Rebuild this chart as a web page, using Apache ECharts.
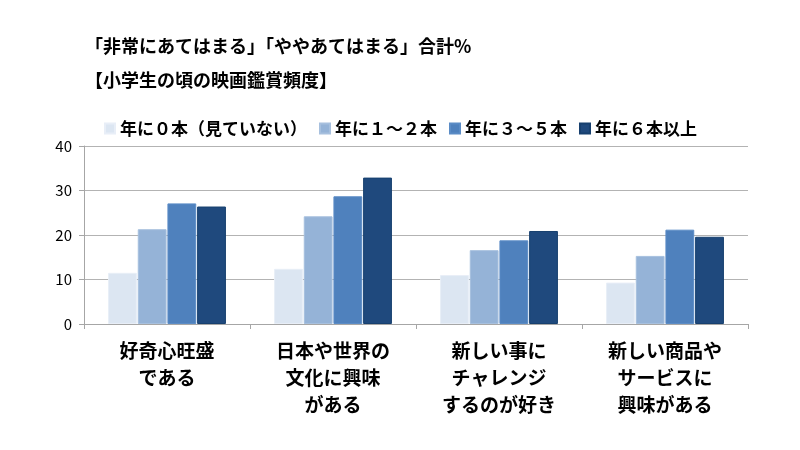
<!DOCTYPE html>
<html>
<head>
<meta charset="utf-8">
<script src="https://cdn.jsdelivr.net/npm/echarts@6/dist/echarts.min.js"></script>
<style>
  html, body { margin: 0; padding: 0; background: #fff; }
  #chart { width: 800px; height: 450px; }
</style>
</head>
<body>
<div id="chart"></div>
<script>
const categories = [
  '好奇心旺盛\nである',
  '日本や世界の\n文化に興味\nがある',
  '新しい事に\nチャレンジ\nするのが好き',
  '新しい商品や\nサービスに\n興味がある'
]
const seriesNames = ['年に０本（見ていない）', '年に１～２本', '年に３～５本', '年に６本以上']
const none = [11.5, 12.4, 11.0, 9.3]
const oneTwo = [21.3, 24.2, 16.6, 15.3]
const threeFive = [27.1, 28.7, 18.8, 21.2]
const sixPlus = [26.4, 32.9, 20.9, 19.6]
const yTicks = [0, 10, 20, 30, 40]

const colors = ['#dce6f2', '#95b3d7', '#4f81bd', '#1f497d']
const borders = ['#e8eef7', '#a7c0de', '#5b8cc6', '#17406f']
const font = '"Noto Sans CJK JP", "Noto Sans", sans-serif'

const chart = echarts.init(document.getElementById('chart'))

const values = [none, oneTwo, threeFive, sixPlus]
const series = seriesNames.map((name, i) => {
  return {
    name: name,
    type: 'bar',
    barGap: '3%',
    barCategoryGap: '29%',
    itemStyle: {
      color: colors[i],
      borderColor: borders[i],
      borderWidth: 1
    },
    data: values[i]
  }
})

chart.setOption({
  backgroundColor: '#fff',
  color: colors,
  title: [
    {
      text: '「非常にあてはまる」「ややあてはまる」合計%',
      left: 80,
      top: 32,
      textStyle: { fontFamily: font, fontSize: 18, fontWeight: 'bold', color: '#000' }
    },
    {
      text: '【小学生の頃の映画鑑賞頻度】',
      left: 80,
      top: 66,
      textStyle: { fontFamily: font, fontSize: 18, fontWeight: 'bold', color: '#000' }
    }
  ],
  legend: {
    left: 99,
    top: 115,
    itemWidth: 10,
    itemHeight: 10,
    itemGap: 12,
    icon: 'rect',
    textStyle: { fontFamily: font, fontSize: 17, fontWeight: 'bold', color: '#000' },
    data: seriesNames
  },
  grid: {
    left: 84,
    right: 52,
    top: 146,
    bottom: 126,
    containLabel: false
  },
  xAxis: {
    type: 'category',
    data: categories,
    axisLine: { lineStyle: { color: '#a6a6a6' } },
    axisTick: { show: true, length: 5, lineStyle: { color: '#a6a6a6' } },
    axisLabel: {
      interval: 0,
      margin: 13,
      fontFamily: font,
      fontSize: 19,
      fontWeight: 'bold',
      color: '#000',
      lineHeight: 27
    }
  },
  yAxis: {
    type: 'value',
    min: yTicks[0],
    max: yTicks[yTicks.length - 1],
    interval: 10,
    axisLine: { show: true, lineStyle: { color: '#a6a6a6' } },
    axisTick: { show: true, length: 5, lineStyle: { color: '#a6a6a6' } },
    splitLine: { lineStyle: { color: '#b3b3b3' } },
    axisLabel: {
      margin: 12,
      fontFamily: font,
      fontSize: 15,
      color: '#000'
    }
  },
  series: series
})
</script>
</body>
</html>
